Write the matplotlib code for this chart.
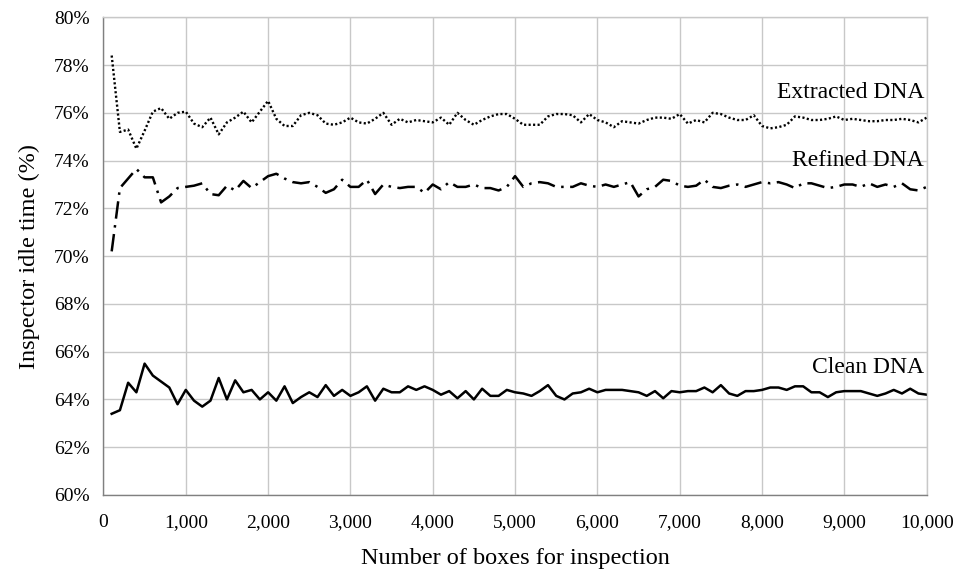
import numpy as np
import matplotlib
matplotlib.use("Agg")
import matplotlib.pyplot as plt
from matplotlib.ticker import FuncFormatter

boxes = list(range(100, 10001, 100))

extracted = [78.4, 75.2, 75.3, 74.5, 75.25, 76.05, 76.2, 75.75, 76.0, 76.05,
             75.55, 75.4, 75.8, 75.1, 75.6, 75.8, 76.05, 75.6, 76.05, 76.5,
             75.75, 75.45, 75.45, 75.9, 76.0, 75.9, 75.55, 75.5, 75.6, 75.8,
             75.6, 75.55, 75.75, 76.0, 75.5, 75.75, 75.6, 75.7, 75.65, 75.6,
             75.8, 75.5, 76.0, 75.7, 75.5, 75.7, 75.85, 75.95, 75.95, 75.75,
             75.5, 75.5, 75.5, 75.85, 75.95, 75.95, 75.9, 75.6, 75.95, 75.7,
             75.6, 75.4, 75.65, 75.6, 75.55, 75.7, 75.8, 75.8, 75.75, 75.95,
             75.55, 75.7, 75.6, 76.0, 75.95, 75.8, 75.7, 75.7, 75.9, 75.45,
             75.35, 75.4, 75.5, 75.85, 75.8, 75.7, 75.7, 75.75, 75.85, 75.7,
             75.75, 75.7, 75.65, 75.65, 75.7, 75.7, 75.75, 75.7, 75.6, 75.8]

refined = [70.2, 72.85, 73.25, 73.65, 73.3, 73.3, 72.25, 72.5, 72.85, 72.9,
           72.95, 73.05, 72.6, 72.55, 72.95, 72.75, 73.15, 72.85, 73.1, 73.35,
           73.45, 73.25, 73.1, 73.05, 73.1, 72.9, 72.65, 72.8, 73.2, 72.9,
           72.9, 73.2, 72.6, 73.0, 72.9, 72.85, 72.9, 72.9, 72.65, 73.0,
           72.8, 73.1, 72.9, 72.9, 73.0, 72.85, 72.85, 72.75, 72.9, 73.35,
           72.9, 73.05, 73.1, 73.05, 72.9, 72.9, 72.9, 73.05, 72.95, 72.9,
           73.0, 72.9, 73.0, 73.1, 72.5, 72.8, 72.9, 73.2, 73.15, 72.95,
           72.9, 72.95, 73.2, 72.9, 72.85, 72.95, 73.0, 72.9, 73.0, 73.1,
           73.05, 73.1, 73.0, 72.85, 73.05, 73.05, 72.95, 72.85, 72.9, 73.0,
           73.0, 72.9, 73.05, 72.9, 73.0, 72.9, 73.05, 72.8, 72.75, 72.9]

clean = [63.4, 63.55, 64.7, 64.3, 65.5, 65.0, 64.75, 64.5, 63.8, 64.4,
         63.95, 63.7, 63.95, 64.9, 64.0, 64.8, 64.3, 64.4, 64.0, 64.3,
         63.95, 64.55, 63.85, 64.1, 64.3, 64.1, 64.6, 64.15, 64.4, 64.15,
         64.3, 64.55, 63.95, 64.45, 64.3, 64.3, 64.55, 64.4, 64.55, 64.4,
         64.2, 64.35, 64.05, 64.35, 64.0, 64.45, 64.15, 64.15, 64.4, 64.3,
         64.25, 64.15, 64.35, 64.6, 64.15, 64.0, 64.25, 64.3, 64.45, 64.3,
         64.4, 64.4, 64.4, 64.35, 64.3, 64.15, 64.35, 64.05, 64.35, 64.3,
         64.35, 64.35, 64.5, 64.3, 64.6, 64.25, 64.15, 64.35, 64.35, 64.4,
         64.5, 64.5, 64.4, 64.55, 64.55, 64.3, 64.3, 64.1, 64.3, 64.35,
         64.35, 64.35, 64.25, 64.15, 64.25, 64.4, 64.25, 64.45, 64.25, 64.2]

series_labels = ["Extracted DNA", "Refined DNA", "Clean DNA"]
label_y = [76.85, 74.0, 65.35]

plt.rcParams['font.family'] = ['Liberation Serif', 'DejaVu Serif']

fig = plt.figure(figsize=(9.57, 5.71), dpi=100)
ax = fig.add_axes([0.1081, 0.1331, 0.8602, 0.8366])

ax.plot(boxes, extracted, color='black', lw=1.7, linestyle=(0, (0.9, 1.0)))
ax.plot(boxes, refined, color='black', lw=1.8, linestyle=(0, (7, 2.6, 1, 2.6)))
ax.plot(boxes, clean, color='black', lw=1.8, linestyle='-')

for lab, yy in zip(series_labels, label_y):
    ax.text(9970, yy, lab, ha='right', va='center', fontsize=17)

ax.set_xlim(0, 10000)
ax.set_ylim(60, 80)
ax.set_xticks(range(0, 10001, 1000))
ax.set_yticks(range(60, 81, 2))
ax.xaxis.set_major_formatter(FuncFormatter(lambda v, p: f"{int(v):,}"))
ax.yaxis.set_major_formatter(FuncFormatter(lambda v, p: f"{int(v)}%"))
ax.tick_params(axis='both', length=0, labelsize=14)
ax.tick_params(axis='x', pad=14)
ax.tick_params(axis='y', pad=10)

ax.grid(True, color='#c8c8c8', lw=1.0)
ax.set_axisbelow(True)
for s in ['top', 'right']:
    ax.spines[s].set_color('#c8c8c8')
    ax.spines[s].set_linewidth(1.0)
for s in ['left', 'bottom']:
    ax.spines[s].set_color('#808080')
    ax.spines[s].set_linewidth(1.0)

ax.set_xlabel("Number of boxes for inspection", fontsize=17.5, labelpad=12)
ax.set_ylabel("Inspector idle time (%)", fontsize=17.5, labelpad=10)

fig.savefig("out.png", dpi=100)
